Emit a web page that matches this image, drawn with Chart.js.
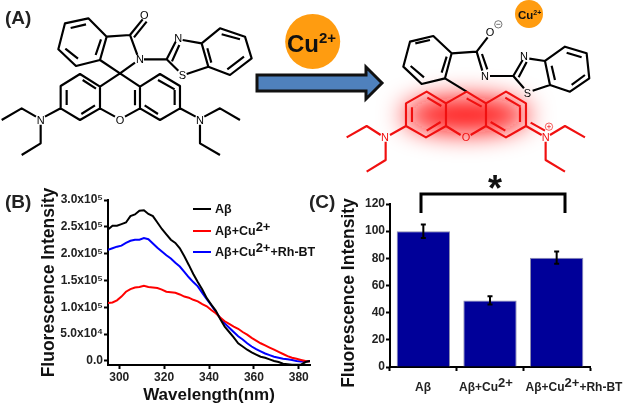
<!DOCTYPE html>
<html lang="en">
<head>
  <meta charset="UTF-8">
  <title>Rh-BT Fluorescence</title>
  <script src="https://cdn.jsdelivr.net/npm/chart.js"></script>
  <style>
    html, body { margin: 0; padding: 0; background: #fff; }
    body { width: 625px; height: 404px; position: relative; overflow: hidden; font-family: "Liberation Sans", Arial, sans-serif; }
    canvas { position: absolute; }
    #lineChart { left: 0; top: 185px; }
    #barChart { left: 335px; top: 165px; }
    svg { position: absolute; left: 0; top: 0; }
    text { font-family: "Liberation Sans", Arial, sans-serif; }
    .bond { fill: none; stroke: #000; stroke-width: 6.5; stroke-linejoin: round; }
    .red { stroke: #f01010; }
    .atom { font-size: 33px; text-anchor: middle; dominant-baseline: central; }
    .cat { font-size: 12px; font-weight: bold; text-anchor: middle; fill: #222; }
    .legend { font: bold 12.5px "Liberation Sans", Arial, sans-serif; position: absolute; left: 215px; white-space: nowrap; color: #111; }
    .legend sup { font-size: 13px; line-height: 0; vertical-align: 4px; }
    .swatch { position: absolute; left: 193px; width: 18px; height: 2px; }
  </style>
</head>
<body>
  <canvas id="lineChart" width="330" height="221"></canvas>
  <canvas id="barChart" width="290" height="239"></canvas>

  <svg width="625" height="404" viewBox="0 0 625 404">
    <defs>
      <filter id="soft" x="-60%" y="-120%" width="220%" height="340%"><feGaussianBlur stdDeviation="38"/></filter>
    </defs>

    <text x="5" y="24" font-size="19" font-weight="bold" fill="#222">(A)</text>
    <text x="5" y="208" font-size="19" font-weight="bold" fill="#222">(B)</text>
    <text x="309" y="208" font-size="19" font-weight="bold" fill="#222">(C)</text>

    <!-- left molecule, traced in 3x crop units -->
    <g transform="scale(0.3333)">
      <path class="bond" d="M195 70L265 55L320 110L300 180L228 198L175 148Z M212 84L258 73 M303 118L287 165 M234 176L196 146
        M320 110L390 105L412 165 M300 180L360 220L405 188 M390 105L428 58 M402 112L440 65 M432 178L500 178
        M500 178L527 125 M516 184L538 135 M548 120L605 130 M500 178L535 212 M560 222L625 200 M605 130L625 200
        M605 130L660 85L735 110L755 175L690 225L625 200 M622 145L634 188 M665 103L720 118 M682 208L732 170
        M360 220L300 260L240 222L182 258L182 325L240 360L300 325L300 260 M360 220L420 260L480 222L540 258L540 325L480 360L420 325L420 260
        M300 325L345 350 M420 325L375 350 M200 270L200 315 M244 342L285 316 M248 240L288 266 M405 270L405 316 M474 342L434 316 M474 240L524 268 M524 270L524 315
        M182 325L135 350 M108 350L65 325L5 360 M122 374L122 430L65 465 M540 325L587 350 M613 350L660 325L720 360 M600 374L600 430L660 465"/>
      <text class="atom" x="433" y="45">O</text>
      <text class="atom" x="420" y="178">N</text>
      <text class="atom" x="535" y="115">N</text>
      <text class="atom" x="547" y="226">S</text>
      <text class="atom" x="360" y="360">O</text>
      <text class="atom" x="122" y="360">N</text>
      <text class="atom" x="600" y="360">N</text>
    </g>

    <!-- arrow -->
    <polygon points="257,75 366,75 366,67 382,83 366,99 366,91 257,91" fill="#4f81bd" stroke="#111" stroke-width="3"/>

    <circle cx="312.7" cy="41.5" r="27.5" fill="#ff9c10"/>
    <text x="287" y="52" font-size="24" font-weight="bold" fill="#111">Cu<tspan font-size="15" dy="-9">2+</tspan></text>
    <circle cx="529" cy="14" r="14" fill="#ff9c10"/>
    <text x="518" y="19" font-size="11.5" font-weight="bold" fill="#111">Cu<tspan font-size="7" dy="-4">2+</tspan></text>

    <!-- right molecule, traced in 3x crop units -->
    <g transform="translate(240,0) scale(0.3333)">
      <ellipse cx="678" cy="345" rx="190" ry="52" fill="#ff1010" filter="url(#soft)"/>
      <path class="bond" d="M510 125L580 108L635 160L615 235L545 252L490 200Z M526 130L570 120 M620 170L605 218 M552 232L512 198
        M635 160L710 155 M710 155L743 112 M710 155L727 212 M726 162L742 208 M750 228L820 228
        M820 228L848 180 M836 232L860 186 M868 176L915 183 M820 228L852 265 M878 272L930 255 M915 183L930 255
        M915 183L975 140L1040 160L1048 235L990 275L930 255 M935 197L945 240 M980 158L1025 172 M995 255L1035 225 M615 235L680 275"/>
      <path class="bond red" d="M680 275L618 310L560 275L498 310L498 378L558 412L618 378L618 310 M680 275L738 310L798 275L858 310L858 378L798 412L738 378L738 310
        M680 295L725 320 M618 378L662 405 M738 378L692 405 M516 322L516 366 M560 392L602 366 M562 293L604 318 M840 322L840 366 M796 392L752 366 M796 293L842 320
        M498 378L450 405 M422 405L380 378L320 412 M437 425L437 480L380 515 M858 378L905 405 M872 368L915 392 M930 405L975 378L1035 412 M917 425L917 480L975 515"/>
      <text class="atom" x="750" y="96">O</text>
      <circle cx="775" cy="73" r="11" fill="none" stroke="#333" stroke-width="2"/>
      <path d="M769 73H781" stroke="#333" stroke-width="2"/>
      <text class="atom" x="735" y="228">N</text>
      <text class="atom" x="852" y="168">N</text>
      <text class="atom" x="862" y="279">S</text>
      <text class="atom" x="678" y="412" fill="#f01010">O</text>
      <text class="atom" x="435" y="412" fill="#f01010">N</text>
      <text class="atom" x="917" y="412" fill="#f01010">N</text>
      <circle cx="927" cy="380" r="11" fill="none" stroke="#f01010" stroke-width="2"/>
      <path d="M921 380H933M927 374V386" stroke="#f01010" stroke-width="2"/>
    </g>

    <!-- significance bracket on panel C -->
    <path d="M421 213V194H565V213" fill="none" stroke="#000" stroke-width="3"/>
    <text x="495" y="201" font-size="36" font-weight="bold" text-anchor="middle" fill="#111">*</text>

    <text transform="translate(354,293) rotate(-90)" font-size="17.5" font-weight="bold" text-anchor="middle" fill="#111">Fluorescence Intensity</text>

    <!-- the category labels in the reference sit off their bars, so they are placed by hand -->
    <text class="cat" x="423" y="391">Aβ</text>
    <text class="cat" x="486" y="391">Aβ+Cu<tspan font-size="13" dy="-4">2+</tspan></text>
    <text class="cat" x="574" y="391">Aβ+Cu<tspan font-size="13" dy="-4">2+</tspan><tspan dy="4">+Rh-BT</tspan></text>
  </svg>

  <div class="swatch" style="top:208px;background:#000"></div>
  <div class="legend" style="top:202px">Aβ</div>
  <div class="swatch" style="top:230px;background:#f00"></div>
  <div class="legend" style="top:224px">Aβ+Cu<sup>2+</sup></div>
  <div class="swatch" style="top:251px;background:#00f"></div>
  <div class="legend" style="top:245px">Aβ+Cu<sup>2+</sup>+Rh-BT</div>

  <script>
    const wavelengths = [295,297,299,301,303,305,307,309,311,313,315,317,319,321,323,325,327,329,331,333,335,337,339,341,343,345,347,349,351,353,355,357,359,361,363,365,367,369,371,373,375,377,379,381,383,385];
    // intensity in units of 10^5
    const abeta = [2.45,2.52,2.52,2.55,2.58,2.70,2.73,2.80,2.81,2.74,2.70,2.58,2.46,2.36,2.26,2.20,2.10,1.95,1.79,1.62,1.47,1.33,1.17,1.05,0.94,0.78,0.64,0.54,0.44,0.33,0.27,0.21,0.16,0.12,0.08,0.06,0.03,0.00,-0.02,-0.05,-0.06,-0.07,-0.07,-0.07,-0.02,0.00];
    const abetaCu = [1.08,1.09,1.13,1.20,1.29,1.34,1.37,1.38,1.40,1.38,1.37,1.36,1.33,1.29,1.28,1.27,1.24,1.20,1.18,1.14,1.11,1.06,1.02,0.95,0.89,0.81,0.74,0.69,0.64,0.60,0.54,0.49,0.43,0.38,0.33,0.29,0.25,0.21,0.17,0.13,0.09,0.06,0.04,0.02,0.00,-0.01];
    const abetaCuRh = [2.07,2.10,2.13,2.15,2.20,2.24,2.26,2.26,2.29,2.27,2.19,2.11,2.04,1.97,1.91,1.83,1.76,1.66,1.56,1.47,1.39,1.27,1.15,1.04,0.92,0.80,0.70,0.62,0.54,0.46,0.40,0.33,0.27,0.22,0.18,0.14,0.11,0.08,0.06,0.04,0.03,0.02,0.00,-0.01,-0.01,0.00];
    const lineTicks = [0,0.5,1,1.5,2,2.5,3];
    const lineTickLabels = ['0.0','5.0x10⁴','1.0x10⁵','1.5x10⁵','2.0x10⁵','2.5x10⁵','3.0x10⁵'];
    const xTicks = [300,320,340,360,380];

    const barLabels = ['Aβ','Aβ+Cu2+','Aβ+Cu2+ +Rh-BT'];
    const barValues = [100,49,80.5];
    const barErrors = [5,3,4.5];

    const boldFont = size => ({ family: '"Liberation Sans", Arial, sans-serif', weight: 'bold', size: size });
    const axisGrid = { display: true, drawOnChartArea: false, drawTicks: true, tickLength: 4, tickWidth: 2, tickColor: '#000' };
    const axisBorder = { display: true, color: '#000', width: 2 };

    const lineSet = (label, values, color) => ({
      label: label,
      data: wavelengths.map((w, i) => ({ x: w, y: values[i] })),
      borderColor: color,
      borderWidth: 2,
      pointRadius: 0,
      tension: 0,
      fill: false
    });

    new Chart(document.getElementById('lineChart'), {
      type: 'line',
      data: {
        datasets: [
          lineSet('Aβ', abeta, '#000'),
          lineSet('Aβ+Cu²⁺', abetaCu, '#f00'),
          lineSet('Aβ+Cu²⁺+Rh-BT', abetaCuRh, '#00f')
        ]
      },
      options: {
        responsive: false,
        animation: false,
        layout: { padding: { top: 15, right: 20, left: 39 } },
        plugins: { legend: { display: false }, tooltip: { enabled: false } },
        scales: {
          x: {
            type: 'linear', min: 295, max: 385,
            border: axisBorder, grid: axisGrid,
            afterBuildTicks: axis => { axis.ticks = xTicks.map(v => ({ value: v })); },
            afterFit: axis => { axis.height = 41; },
            ticks: { color: '#222', font: boldFont(12), maxRotation: 0, padding: 1 },
            title: { display: true, text: 'Wavelength(nm)', color: '#111', font: boldFont(17), padding: 0 }
          },
          y: {
            type: 'linear', min: -0.075, max: 3,
            border: axisBorder, grid: axisGrid,
            afterBuildTicks: axis => { axis.ticks = lineTicks.map(v => ({ value: v })); },
            afterFit: axis => { axis.width = 69; },
            ticks: { color: '#222', font: boldFont(12), padding: 1, callback: v => lineTickLabels[lineTicks.indexOf(v)] },
            title: { display: true, text: 'Fluorescence Intensity', color: '#111', font: boldFont(17.5), padding: { top: 0, bottom: 2 } }
          }
        }
      }
    });

    // whiskers on the bars, the library has no error bars of its own
    const errorBars = {
      id: 'errorBars',
      afterDatasetsDraw(chart) {
        const y = chart.scales.y, ctx = chart.ctx;
        ctx.save();
        ctx.strokeStyle = '#000';
        ctx.lineWidth = 2;
        chart.getDatasetMeta(0).data.forEach((bar, i) => {
          const hi = y.getPixelForValue(barValues[i] + barErrors[i]);
          const lo = y.getPixelForValue(barValues[i] - barErrors[i]);
          ctx.beginPath();
          ctx.moveTo(bar.x, hi); ctx.lineTo(bar.x, lo);
          ctx.moveTo(bar.x - 2.5, hi); ctx.lineTo(bar.x + 2.5, hi);
          ctx.moveTo(bar.x - 2.5, lo); ctx.lineTo(bar.x + 2.5, lo);
          ctx.stroke();
        });
        ctx.restore();
      }
    };

    new Chart(document.getElementById('barChart'), {
      type: 'bar',
      data: {
        labels: barLabels,
        datasets: [{ data: barValues, backgroundColor: '#000099', borderColor: '#8c8cb0', borderWidth: 1, barPercentage: 0.8, categoryPercentage: 1 }]
      },
      options: {
        responsive: false,
        animation: false,
        layout: { padding: { top: 39, right: 35 } },
        plugins: { legend: { display: false }, tooltip: { enabled: false } },
        scales: {
          x: {
            border: axisBorder,
            grid: axisGrid,
            afterFit: axis => { axis.height = 37; },
            ticks: { display: false }
          },
          y: {
            min: 0, max: 120,
            border: axisBorder, grid: axisGrid,
            afterFit: axis => { axis.width = 55; },
            ticks: { color: '#222', font: boldFont(12), stepSize: 20, padding: 1 }
          }
        }
      },
      plugins: [errorBars]
    });
  </script>
</body>
</html>
